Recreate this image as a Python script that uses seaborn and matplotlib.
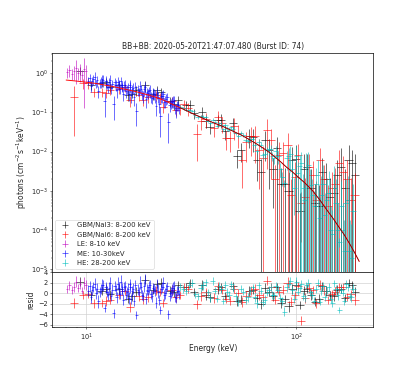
import numpy as np
import pandas as pd
import matplotlib
matplotlib.use("Agg")
import matplotlib.pyplot as plt
import seaborn as sns

sns.set_style("ticks")
plt.rcParams["font.family"] = ["DejaVu Sans"]
plt.rcParams["mathtext.fontset"] = "dejavusans"
plt.rcParams["xtick.direction"] = "out"
plt.rcParams["ytick.direction"] = "out"

title = "BB+BB: 2020-05-20T21:47:07.480 (Burst ID: 74)"

# ---- model curve (BB+BB) ----
model_E = [8, 9, 10, 11, 12, 13, 14, 15, 16, 17, 18, 19, 20,
           22, 24, 26, 28, 30, 32, 35, 38, 40,
           45, 50, 55, 60, 65, 70, 75, 80, 85, 90, 95, 100,
           110, 120, 130, 140, 150, 160, 170, 180, 190, 200]
model_F = [0.66, 0.62, 0.58, 0.545, 0.50, 0.465, 0.43, 0.395, 0.365, 0.34, 0.315, 0.29, 0.27,
           0.23, 0.19, 0.155, 0.13, 0.11, 0.093, 0.075, 0.062, 0.055,
           0.043, 0.033, 0.026, 0.020, 0.0155, 0.012, 0.0093, 0.0070, 0.0053, 0.0040, 0.0032, 0.0025,
           0.0016, 0.0010, 0.00058, 0.00033, 0.00020, 0.00012, 0.000075, 0.000045, 0.000027, 0.000016]

# ---- GBM/NaI3 ----
n3_E = [9.3, 10.5, 11.8, 13.0, 14.3, 15.8, 17.3, 19.0, 20.8, 22.8,
        25.0, 27.3, 29.8, 32.5, 35.5, 38.7, 42.2, 46.0, 50.0, 54.5,
        59.5, 65.0, 71.0, 77.5, 84.5, 92.0, 100, 109, 118, 128,
        139, 151, 164, 178, 192,
        12.4, 16.5, 21.8, 26.1, 31.1, 37.0, 44.0, 52.2, 62.2, 68.0,
        74.2, 81.0, 88.2, 96.0, 104, 113, 123, 133, 145, 157, 171, 185]
n3_F = [1.15, .50, .57, .44, .50, .28, .36, .48, .30, .32,
        .19, .20, .15, .095, .104, .042, .063, .033, .052, .011,
        .0246, .006, .0195, .0037, .0015, .001, .0065, .0035, .0012, .0004,
        .002, .0009, .004, .006, .0025,
        .60, .30, .36, .16, .157, .06, .065, .0075, .024, .003,
        .011, .012, .0015, .006, .0003, .004, .0005, .003, .0007, .0025, .0012, .005]
n3_rel = [.25, .25, .25, .25, .25, .3, .3, .3, .3, .3,
          .3, .3, .3, .3, .3, .35, .35, .4, .4, .5,
          .5, .7, .7, .9, 1.5, 2, 1.2, 1.5, 2, 2.5,
          1.5, 2, 2, 1.5, 2.5,
          .25, .25, .3, .3, .3, .35, .4, .5, .6, 1.2,
          .9, 1.0, 1.5, 1.2, 2, 1.2, 2, 1.3, 2, 1.5, 2, 1.2]
n3_R = [2.2, -0.4, 0.5, -0.2, 0.8, -1.0, 0.3, 2.6, 0.7, 2.0,
        0.5, 1.5, 1.2, 0.2, 1.6, -0.8, 0.8, -0.5, 1.3, -1.2,
        0.4, -0.9, 1.0, -0.6, -1.8, -2.5, 1.6, 0.5, -0.3, -1.0,
        0.4, -0.6, 0.9, 2.0, 0.3,
        0.9, -0.6, 1.8, 0.2, 1.9, -0.3, 1.1, -1.5, 0.6, -2.0,
        0.2, 1.1, -1.1, 0.8, -2.2, 0.9, -1.6, 1.3, -0.4, 0.6, -0.9, 1.5]
n3_Rerr = [0.9, 0.8, 0.9, 0.8, 0.9, 0.8, 0.9, 0.9, 0.8, 0.9,
           0.8, 0.9, 0.8, 0.8, 0.9, 0.8, 0.9, 0.8, 0.9, 0.8,
           0.9, 0.8, 0.9, 0.8, 0.9, 1.0, 0.9, 0.8, 0.9, 0.8,
           0.9, 0.8, 0.9, 0.8, 0.9,
           0.8, 0.9, 0.8, 0.9, 0.8, 0.9, 0.8, 0.9, 0.8, 0.9,
           0.8, 0.9, 0.8, 0.9, 0.8, 0.9, 0.8, 0.9, 0.8, 0.9, 0.8, 0.9]

# ---- GBM/NaI6 ----
n6_E = [8.7, 10.2, 10.9, 11.8, 13.0, 14.3, 16.2, 17.8, 19.7, 21.5,
        23.3, 25.5, 28.0, 30.5, 33.8, 37.0, 40.5, 44.5, 48.5, 53.0,
        58.0, 63.5, 69.5, 76.0, 83.0, 91.0, 99.0, 106, 115, 125,
        136, 148, 161, 175, 190,
        9.6, 12.4, 15.2, 18.7, 22.4, 26.7, 29.2, 35.3, 42.5, 46.5,
        50.7, 55.5, 60.7, 66.5, 72.7, 79.5, 87.0, 95.0, 102, 110,
        120, 130, 142, 154, 168, 182]
n6_F = [.25, .56, .33, .33, .36, .40, .20, .28, .24, .27,
        .14, .19, .125, .125, .028, .067, .040, .053, .022, .030,
        .018, .025, .007, .02, .008, .015, .0022, .0005, .004, .0006,
        .002, .0012, .005, .002, .0008,
        .55, .31, .43, .21, .235, .115, .16, .06, .075, .022,
        .045, .006, .025, .011, .035, .002, .009, .0008, .008, .0007,
        .0025, .006, .0004, .0015, .003, .0006]
n6_rel = [.9, .3, .25, .25, .25, .25, .3, .3, .3, .3,
          .3, .3, .3, .35, .8, .4, .4, .45, .55, .6,
          .7, .8, 1.0, .9, 1.2, 1.0, 1.5, .9, 1.2, 2,
          1.3, 1.5, 1.2, 2, 2.5,
          .3, .25, .25, .3, .3, .3, .3, .4, .45, .5,
          .55, .8, .7, .9, .9, 1.3, 1.0, 1.5, 1.0, 2,
          1.3, 1.0, 2.5, 1.5, 1.5, 2.5]
n6_R = [-1.8, -0.1, -1.9, -1.8, -1.2, -0.3, -2.6, -0.5, -0.8, 0.5,
        -1.8, 0.6, -0.3, 0.8, -2.1, 0.2, -0.9, 0.6, -1.4, 0.1,
        -0.5, 0.9, -0.8, 1.2, 0.3, 2.0, -0.4, -5.2, 1.0, -1.9,
        0.5, -0.2, 1.1, -0.7, -1.3,
        -0.3, -1.5, 0.4, -1.1, 0.2, -0.8, 1.2, -0.5, 1.3, -1.0,
        0.8, -1.7, 0.5, -0.3, 2.4, -1.2, 0.7, -1.6, 1.4, -0.9,
        0.6, 1.6, -1.3, 0.3, 1.2, -0.2]
n6_Rerr = [0.9, 0.8, 0.9, 0.8, 0.9, 0.8, 0.9, 0.9, 0.8, 0.9,
           0.8, 0.9, 0.8, 0.8, 0.9, 0.8, 0.9, 0.8, 0.9, 0.8,
           0.9, 0.8, 0.9, 0.8, 0.9, 1.0, 0.9, 0.8, 0.9, 0.8,
           0.9, 0.8, 0.9, 0.8, 0.9,
           0.8, 0.9, 0.8, 0.9, 0.8, 0.9, 0.8, 0.9, 0.8, 0.9,
           0.8, 0.9, 0.8, 0.9, 0.8, 0.9, 0.8, 0.9, 0.8, 0.9,
           0.8, 0.9, 0.8, 0.9, 0.8, 0.9]

# ---- LE ----
le_E = [8.1, 8.3, 8.5, 8.7, 8.9, 9.1, 9.3, 9.5, 9.7, 9.9]
le_F = [1.05, 1.2, 0.95, 1.1, 1.3, 1.0, 1.15, 0.9, 1.25, 1.1]
le_rel = [.3, .35, .3, .4, .6, .35, .5, .3, .9, .45]
le_R = [0.8, 1.5, 0.6, 1.2, 2.2, 1.0, 1.8, 0.5, 2.0, 1.6]
le_Rerr = [0.8, 0.9, 0.8, 1.0, 1.1, 0.8, 1.0, 0.7, 1.1, 0.9]

# ---- ME ----
me_E = [10.2, 10.5, 10.8, 11.1, 11.4, 11.7, 12.0, 12.2, 12.5, 12.8,
        13.1, 13.5, 13.8, 14.1, 14.4, 14.7, 15.0, 15.3, 15.6, 15.9,
        16.2, 16.5, 16.9, 17.3, 17.6, 18.0, 18.4, 18.8, 19.2, 19.6,
        20.0, 20.5, 21.0, 21.5, 22.0, 22.5, 23.0, 23.5, 24.0, 24.6,
        25.2, 25.8, 26.4, 27.0, 27.7,
        10.35, 10.65, 10.95, 11.25, 11.55, 11.85, 12.35, 12.65, 12.95, 13.3,
        13.65, 13.95, 14.25, 14.55, 14.85, 15.15, 15.45, 15.75, 16.05, 16.35,
        16.7, 17.1, 17.8, 18.2, 18.6, 19.0, 19.4, 19.8, 20.25, 20.75,
        21.25, 21.75, 22.25, 22.75, 23.25, 23.75, 24.3, 24.9, 25.5, 26.1,
        26.7, 27.35]
me_F = [.64, .466, .70, .545, .355, .606, .665, .19, .517, .58,
        .414, .16, .498, .60, .40, .485, .29, .50, .39, .295,
        .447, .384, .24, .11, .38, .455, .285, .38, .22, .306,
        .365, .226, .30, .145, .245, .08, .265, .182, .223, .055,
        .172, .193, .127, .152, .127,
        .733, .634, .768, .645, .546, .686, .609, .438, .666, .529,
        .582, .358, .519, .611, .444, .493, .355, .435, .499, .27,
        .419, .452, .341, .385, .26, .45, .323, .345, .253, .311,
        .267, .318, .161, .253, .291, .195, .238, .156, .185, .20,
        .116, .152]
me_rel = [0.25, 0.3, 0.3, 0.25, 0.35, 0.3, 0.35, 0.6, 0.25, 0.3,
          0.3, 0.6, 0.3, 0.35, 0.25, 0.3, 0.35, 0.3, 0.25, 0.35,
          0.3, 0.25, 0.4, 0.6, 0.3, 0.35, 0.3, 0.3, 0.4, 0.3,
          0.35, 0.3, 0.3, 0.45, 0.3, 0.7, 0.35, 0.3, 0.3, 0.7,
          0.3, 0.35, 0.3, 0.3, 0.3,
          0.3, 0.25, 0.35, 0.3, 0.25, 0.3, 0.35, 0.3, 0.3, 0.25,
          0.3, 0.35, 0.3, 0.3, 0.25, 0.3, 0.35, 0.3, 0.3, 0.35,
          0.3, 0.3, 0.25, 0.3, 0.35, 0.3, 0.3, 0.25, 0.3, 0.3,
          0.35, 0.3, 0.4, 0.3, 0.3, 0.35, 0.3, 0.35, 0.3, 0.3,
          0.4, 0.3]
me_R = [0.5, -0.8, 1.2, 0.0, -1.5, 0.8, 1.5, -2.8, 0.3, 1.0,
        -0.5, -3.8, 0.6, 1.8, -0.2, 0.9, -1.2, 1.4, 0.2, -0.9,
        1.1, 0.4, -1.4, -4.1, 0.7, 2.0, -0.3, 1.3, -1.0, 0.5,
        1.6, -0.6, 0.9, -1.8, 0.3, -3.2, 1.2, -0.4, 0.8, -4.0,
        0.1, 1.0, -0.7, 0.4, -0.2,
        1.3, 0.6, 1.8, 0.9, 0.2, 1.6, 1.1, -0.4, 1.9, 0.7,
        1.4, -0.8, 1.0, 2.2, 0.5, 1.2, -0.3, 0.8, 1.7, -1.1,
        0.9, 1.5, 0.3, 1.1, -0.6, 2.5, 0.7, 1.2, -0.2, 1.0,
        0.4, 1.6, -1.3, 0.8, 1.9, 0.0, 1.3, -0.5, 0.6, 1.4,
        -0.9, 0.5]
me_Rerr = [1.0, 1.1, 0.9, 1.0, 1.2, 0.9, 1.1, 0.8, 1.0, 1.1,
           0.9, 0.8, 1.0, 1.2, 0.9, 1.0, 1.1, 0.9, 1.0, 1.2,
           1.0, 0.9, 1.1, 0.8, 1.0, 1.2, 0.9, 1.0, 1.1, 0.9,
           1.0, 1.1, 0.9, 1.0, 1.2, 0.8, 1.0, 1.1, 0.9, 0.8,
           1.0, 1.1, 0.9, 1.0, 0.9,
           1.0, 0.9, 1.1, 1.0, 0.9, 1.2, 1.0, 0.9, 1.1, 1.0,
           0.9, 1.0, 1.1, 1.2, 0.9, 1.0, 0.9, 1.1, 1.0, 0.9,
           1.0, 1.1, 0.9, 1.0, 0.9, 1.2, 1.0, 1.1, 0.9, 1.0,
           0.9, 1.1, 1.0, 0.9, 1.1, 1.0, 0.9, 1.0, 1.1, 0.9,
           1.0, 0.9]

# ---- HE ----
he_E = [28, 30, 32, 34, 36, 38, 40, 42, 44, 46,
        48, 50, 53, 56, 59, 62, 65, 68, 71, 74,
        77, 80, 84, 88, 92, 96, 100, 104, 108, 112,
        117, 122, 127, 132, 137, 143, 149, 155, 161, 167,
        173, 180, 187,
        29, 31, 33, 35, 37, 39, 41, 43, 45, 47,
        49, 51.5, 54.5, 57.5, 60.5, 63.5, 66.5, 69.5, 72.5, 75.5,
        78.5, 82, 86, 90, 94, 98, 102, 106, 110, 114.5,
        119.5, 124.5, 129.5, 134.5, 140, 146, 152, 158, 164, 170,
        176.5, 183.5]
he_F = [.14, .113, .108, .074, .077, .061, .064, .045, .048, .048,
        .036, .037, .025, .027, .019, .021, .0105, .0145, .0088, .0115,
        .0078, .0105, .0037, .0016, .0075, .0036, .0075, .0042, .0012, .004,
        .0014, .0004, .0025, .0008, .00025, .0009, .00008, .0005, .00005, .0001,
        .0005, .00003, .0003,
        .127, .111, .086, .081, .077, .053, .055, .053, .037, .040,
        .041, .029, .030, .020, .0206, .0145, .018, .0082, .0108, .0118,
        .0068, .0075, .0022, .0068, .0085, .0012, .0028, .005, .0006, .0045,
        .0008, .0015, .0002, .0015, .0006, .0001, .0012, .0001, .0004, .00003,
        .0006, .00002]
he_rel = [.07, .07, .08, .08, .08, .09, .09, .09, .1, .1,
          .1, .11, .12, .13, .14, .15, .17, .19, .22, .25,
          .28, .32, .38, .2, .6, .7, .9, 1.0, 1.2, 1.3,
          1.5, 1.5, 1.5, 2, 2.5, 2.5, 3, 3, .25, 4,
          3, 5, 4,
          .07, .07, .08, .08, .08, .09, .09, .09, .1, .1,
          .1, .11, .12, .13, .14, .16, .18, .2, .23, .26,
          .3, .35, .4, .5, .65, .8, .9, 1.0, 1.5, 1.2,
          1.5, 1.5, 2.5, 2, 2.5, 3, 2.5, 4, 3.5, 5,
          3, 6]
he_R = [1.2, 0.4, 2.0, -0.6, 1.5, 0.2, 2.3, -1.0, 0.8, 1.6,
        -0.4, 0.9, -1.6, 0.3, -0.8, 1.1, -1.9, 0.5, -1.2, 0.7,
        -0.3, 1.4, -0.9, -3.5, 1.8, 0.6, 2.2, 1.0, -0.5, 1.5,
        0.2, -1.4, 1.9, 0.4, -0.7, 1.2, -1.8, 0.8, -3.2, 0.1,
        1.7, -0.6, 0.9,
        0.8, 1.6, -0.2, 1.0, 2.1, -0.9, 0.5, 1.3, -1.4, 0.2,
        1.7, -0.6, 0.9, -1.2, 0.4, -0.8, 1.5, -1.6, 0.1, 1.2,
        -0.4, 0.6, -1.5, 1.1, 2.3, -1.0, 0.3, 1.7, -0.9, 2.0,
        -0.3, 0.8, -1.6, 1.4, 0.5, -1.1, 1.9, -0.4, 0.7, -1.5,
        1.2, -0.8]
he_Rerr = [0.8, 0.7, 0.8, 0.7, 0.8, 0.7, 0.8, 0.7, 0.8, 0.7,
           0.8, 0.7, 0.8, 0.7, 0.8, 0.7, 0.8, 0.7, 0.8, 0.7,
           0.8, 0.7, 0.8, 0.9, 0.8, 0.7, 0.8, 0.7, 0.8, 0.7,
           0.8, 0.7, 0.8, 0.7, 0.8, 0.7, 0.8, 0.7, 0.6, 0.7,
           0.8, 0.7, 0.8,
           0.7, 0.8, 0.7, 0.8, 0.7, 0.8, 0.7, 0.8, 0.7, 0.8,
           0.7, 0.8, 0.7, 0.8, 0.7, 0.8, 0.7, 0.8, 0.7, 0.8,
           0.7, 0.8, 0.7, 0.8, 0.7, 0.8, 0.7, 0.8, 0.7, 0.8,
           0.7, 0.8, 0.7, 0.8, 0.7, 0.8, 0.7, 0.8, 0.7, 0.8,
           0.7, 0.8]

datasets = [
    ("GBM/NaI3: 8-200 keV", n3_E, n3_F, n3_rel, n3_R, n3_Rerr, 0.045, "k"),
    ("GBM/NaI6: 8-200 keV", n6_E, n6_F, n6_rel, n6_R, n6_Rerr, 0.045, "r"),
    ("LE: 8-10 keV", le_E, le_F, le_rel, le_R, le_Rerr, 0.012, "m"),
    ("ME: 10-30keV", me_E, me_F, me_rel, me_R, me_Rerr, 0.014, "b"),
    ("HE: 28-200 keV", he_E, he_F, he_rel, he_R, he_Rerr, 0.028, "c"),
]

DPI = 45
fig = plt.figure(figsize=(415 / DPI, 374 / DPI), dpi=DPI)
gs = fig.add_gridspec(2, 1, height_ratios=[4, 1], hspace=0,
                      left=0.1253, right=0.9, top=0.858, bottom=0.1257)
ax = fig.add_subplot(gs[0])
ax2 = fig.add_subplot(gs[1], sharex=ax)
ax.set_xscale("log")
ax.set_yscale("log")

for label, E, F, rel, R, Rerr, frac, col in datasets:
    E = np.asarray(E, float)
    F = np.asarray(F, float)
    rel = np.asarray(rel, float)
    lo = F * np.minimum(rel, 1.0)
    hi = F * rel
    ax.errorbar(E, F, xerr=E * frac, yerr=[lo, hi], fmt="none",
                ecolor=col, elinewidth=1.5, alpha=0.6, label=label)
    ax2.errorbar(E, R, xerr=E * frac, yerr=Rerr, fmt="none",
                 ecolor=col, elinewidth=1.5, alpha=0.6)

model_df = pd.DataFrame({"E": model_E, "F": model_F})
sns.lineplot(data=model_df, x="E", y="F", ax=ax, color="red", lw=1.5,
             legend=False, zorder=5)
sns.lineplot(data=model_df[model_df["E"] >= 28], x="E", y="F", ax=ax,
             color="black", lw=1.0, alpha=0.6, legend=False, zorder=6)

ax.set_xlim(6.85, 234)
ax.set_ylim(8.5e-6, 3.2)
ax.set_xlabel("")
ax.set_ylabel(r"photons (cm$^{-2}$s$^{-1}$keV$^{-1}$)", fontsize=12, labelpad=3)
ax.set_title(title, fontsize=12)
plt.setp(ax.get_xticklabels(which="both"), visible=False)
ax.legend(loc="lower left", fontsize=11)

ax2.set_ylim(-6.4, 4.0)
ax2.set_yticks([-6, -4, -2, 0, 2, 4])
ax2.grid(True, which="major", color="#cfcfcf", lw=1.0)
ax2.set_xlabel("Energy (keV)", fontsize=12, labelpad=2)
ax2.set_ylabel("resid", fontsize=12)

for a in (ax, ax2):
    for s in a.spines.values():
        s.set_linewidth(1.1)
        s.set_color("black")
    a.tick_params(which="major", width=0.9, length=3.5, labelsize=10.5)
    a.tick_params(which="minor", width=0.7, length=2)

fig.savefig("out.png", dpi=DPI)
